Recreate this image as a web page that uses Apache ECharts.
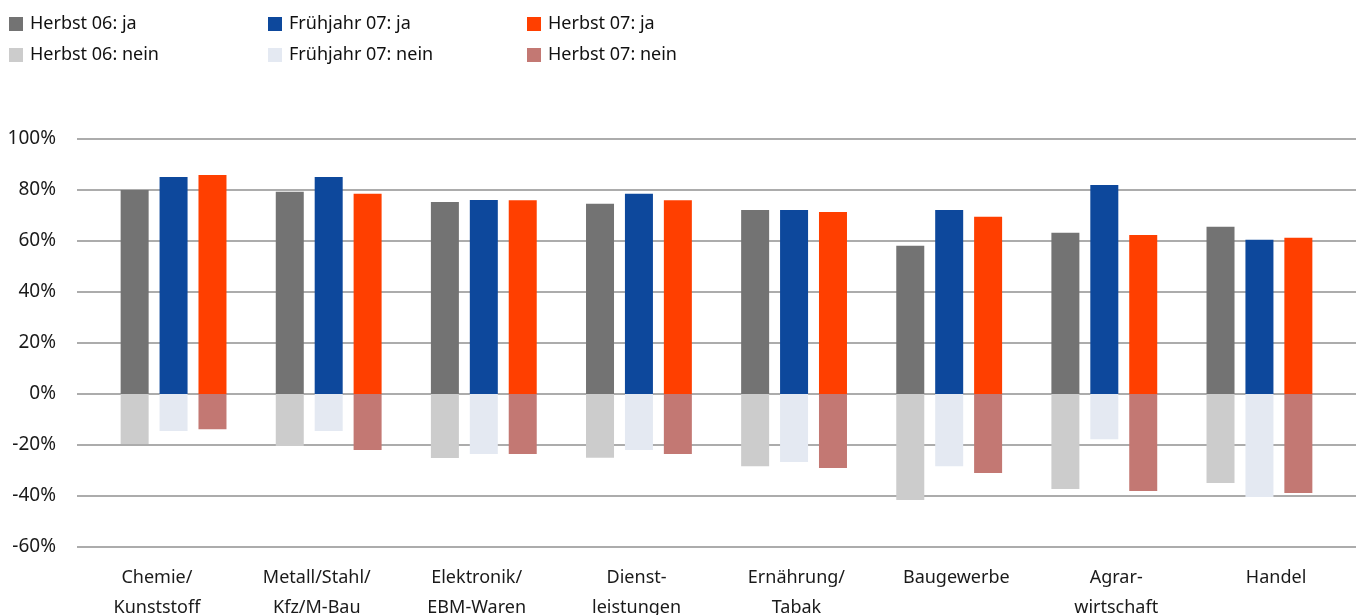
<!DOCTYPE html>
<html>
<head>
<meta charset="utf-8">
<script src="https://cdn.jsdelivr.net/npm/echarts@6/dist/echarts.min.js"></script>
<style>
  html, body { margin: 0; padding: 0; background: #fff; }
  #chart { width: 1361px; height: 615px; }
</style>
</head>
<body>
<div id="chart"></div>
<script>
const categories = ['Chemie/\nKunststoff', 'Metall/Stahl/\nKfz/M-Bau', 'Elektronik/\nEBM-Waren', 'Dienst-\nleistungen',
  'Ernährung/\nTabak', 'Baugewerbe', 'Agrar-\nwirtschaft', 'Handel']

const herbst06Ja = [80, 79.3, 75.3, 74.6, 72.2, 58.1, 63.2, 65.6]
const fruehjahr07Ja = [85.1, 85.1, 76.1, 78.5, 72.2, 72.2, 82, 60.5]
const herbst07Ja = [85.9, 78.5, 76, 76, 71.4, 69.5, 62.4, 61.3]
const herbst06Nein = [-19.6, -20.4, -25.1, -25, -28.3, -41.6, -37.3, -34.9]
const fruehjahr07Nein = [-14.5, -14.5, -23.5, -22, -26.7, -28.3, -17.7, -40.4]
const herbst07Nein = [-13.8, -22, -23.5, -23.5, -29, -31, -38, -38.8]

const yTicks = { min: -60, max: 100, interval: 20 }

const font = 'Noto Sans'

function bar(name, stack, data, color) {
  return {
    name: name,
    type: 'bar',
    stack: stack,
    xAxisIndex: 1,
    yAxisIndex: 1,
    barWidth: 28,
    barGap: '39%',
    itemStyle: { color: color },
    data: data
  }
}

function legendCol(left, names) {
  return {
    orient: 'vertical',
    left: left,
    top: 9,
    itemWidth: 14,
    itemHeight: 14,
    itemGap: 11,
    icon: 'rect',
    data: names,
    textStyle: { fontFamily: font, fontSize: 18, color: '#111', lineHeight: 20, padding: [0, 0, 0, 2] }
  }
}

const chart = echarts.init(document.getElementById('chart'))
chart.setOption({
  animation: false,
  backgroundColor: '#fff',
  legend: [
    legendCol(4, ['Herbst 06: ja', 'Herbst 06: nein']),
    legendCol(263, ['Frühjahr 07: ja', 'Frühjahr 07: nein']),
    legendCol(522, ['Herbst 07: ja', 'Herbst 07: nein'])
  ],
  grid: [
    { left: 77, right: 5, top: 139, bottom: 68, outerBoundsMode: 'none' },
    { left: 96, width: 1241, top: 139, bottom: 68, outerBoundsMode: 'none' }
  ],
  xAxis: [
    {
      type: 'category',
      gridIndex: 0,
      data: categories,
      axisLine: { show: false },
      axisTick: { show: false },
      axisLabel: { interval: 0, fontFamily: font, fontSize: 18, lineHeight: 30, margin: 16, color: '#1a1a1a' }
    },
    {
      type: 'category',
      gridIndex: 1,
      data: categories,
      show: false
    }
  ],
  yAxis: [
    {
      type: 'value',
      gridIndex: 0,
      min: yTicks.min,
      max: yTicks.max,
      interval: yTicks.interval,
      axisLine: { show: false },
      axisTick: { show: false },
      axisLabel: { formatter: '{value}%', fontFamily: font, fontSize: 19, margin: 21, color: '#1a1a1a' },
      splitLine: { lineStyle: { color: '#acacac', width: 2 } }
    },
    {
      type: 'value',
      gridIndex: 1,
      min: yTicks.min,
      max: yTicks.max,
      interval: yTicks.interval,
      show: false,
      splitLine: { show: false }
    }
  ],
  series: [
    bar('Herbst 06: ja', 'h06', herbst06Ja, '#737373'),
    bar('Frühjahr 07: ja', 'f07', fruehjahr07Ja, '#0d489c'),
    bar('Herbst 07: ja', 'h07', herbst07Ja, '#ff3f00'),
    bar('Herbst 06: nein', 'h06', herbst06Nein, '#cccccc'),
    bar('Frühjahr 07: nein', 'f07', fruehjahr07Nein, '#e4e9f2'),
    bar('Herbst 07: nein', 'h07', herbst07Nein, '#c37873')
  ]
})
</script>
</body>
</html>
